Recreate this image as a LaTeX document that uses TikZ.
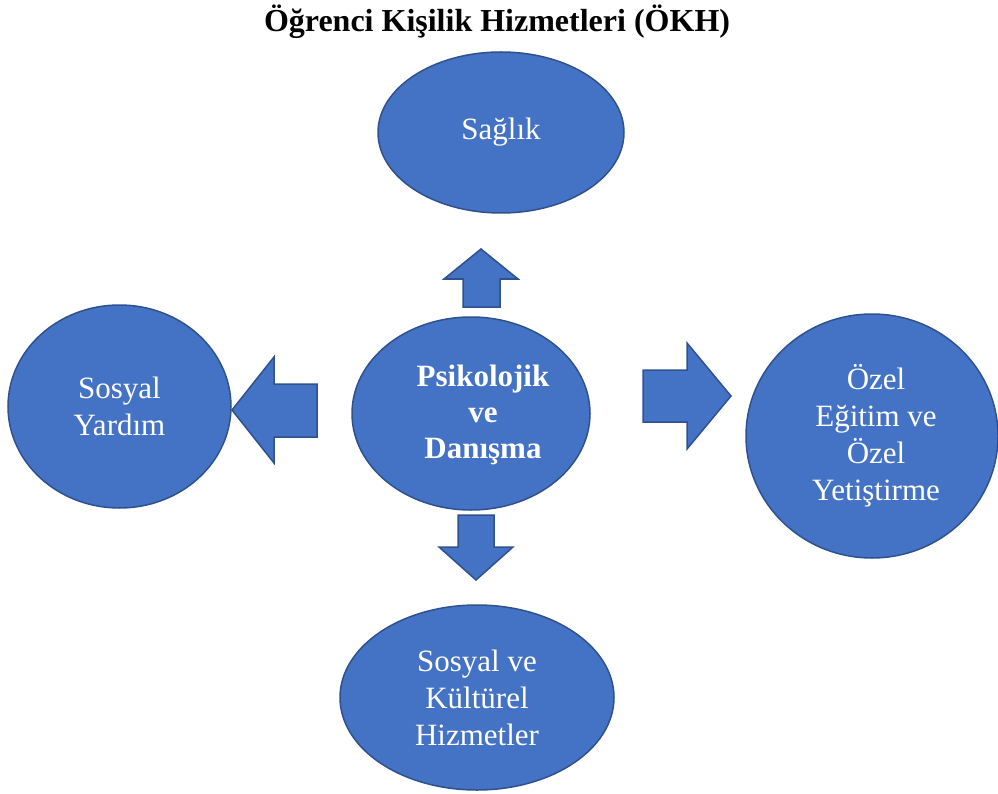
\documentclass[tikz,border=0pt]{standalone}
\usepackage{fontspec}
\setmainfont{Liberation Serif}
\usetikzlibrary{shapes.geometric}
\definecolor{blfill}{HTML}{4472C4}
\definecolor{bldraw}{HTML}{2F528F}
\begin{document}
\begin{tikzpicture}[x=1pt,y=-1pt,
  bubble/.style={ellipse, fill=blfill, draw=bldraw, line width=1.5pt, inner sep=0pt,
    text=white, align=center, font=\fontsize{31}{37}\selectfont},
  bubbletext/.style={text=white, align=center, inner sep=0pt, font=\fontsize{31}{37}\selectfont},
  blockarrow/.style={fill=blfill, draw=bldraw, line width=1.5pt, line join=miter}]
\useasboundingbox (0,0) rectangle (998,794);
\node[font=\fontsize{32}{38}\selectfont\bfseries, anchor=base] (title) at (497,32) {Öğrenci Kişilik Hizmetleri (ÖKH)};
\node[bubble, minimum width=246pt, minimum height=161pt] (saglik) at (501,132.5) {Sağlık};
\node[bubble, minimum width=223pt, minimum height=203pt] (yardim) at (119.5,406.5) {Sosyal\\Yardım};
\node[bubble, minimum width=238pt, minimum height=193pt] (merkez) at (471,413.5) {};
\node[bubbletext, font=\fontsize{31}{36}\selectfont\bfseries] (merkeztext) at ([xshift=12pt,yshift=-1pt]merkez.center) {Psikolojik\\ve\\Danışma};
\node[bubble, minimum width=252pt, minimum height=244pt] (ozel) at (872,436) {};
\node[bubbletext] (ozeltext) at ([xshift=4pt]ozel.center) {Özel\\Eğitim ve\\Özel\\Yetiştirme};
\node[bubble, minimum width=274pt, minimum height=185pt] (kultur) at (477,697.5) {Sosyal ve\\Kültürel\\Hizmetler};
% block arrows
\draw[blockarrow] (463,307) -- (463,279) -- (444,279) -- (481,249) -- (518,279) -- (500,279) -- (500,307) -- cycle;
\draw[blockarrow] (317,384) -- (274,384) -- (274,357) -- (232,410) -- (274,463) -- (274,437) -- (317,437) -- cycle;
\draw[blockarrow] (643,370) -- (687,370) -- (687,343) -- (731,396) -- (687,449) -- (687,422) -- (643,422) -- cycle;
\draw[blockarrow] (458,515) -- (494,515) -- (494,547) -- (513,547) -- (476,580) -- (439,547) -- (458,547) -- cycle;
\end{tikzpicture}
\end{document}
